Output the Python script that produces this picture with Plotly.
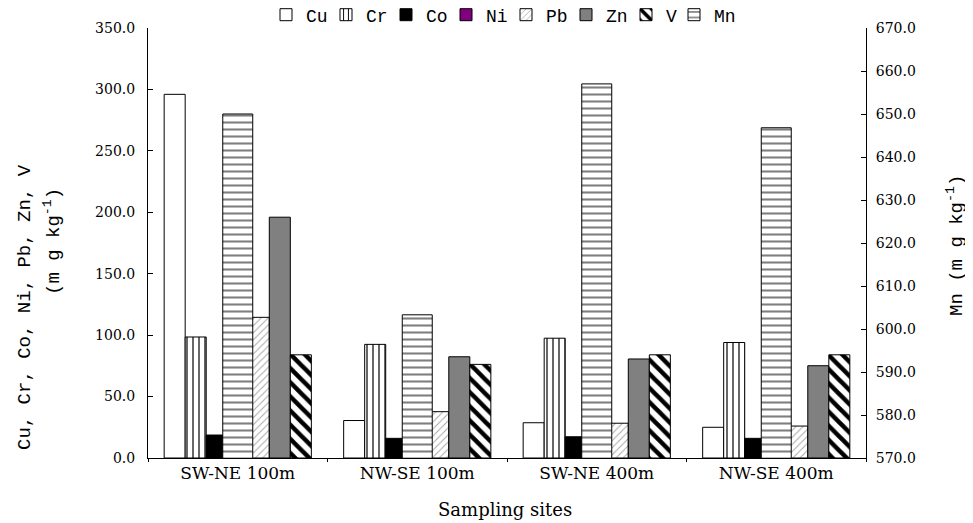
import plotly.graph_objects as go

sites = ["SW-NE 100m", "NW-SE 100m", "SW-NE 400m", "NW-SE 400m"]
cu = [296.0, 30.5, 28.7, 25.0]
cr = [98.5, 92.5, 97.5, 94.0]
co = [18.7, 16.0, 17.3, 16.0]
ni = [35.0, 32.0, 33.0, 31.0]   # hidden behind the Mn bar in the original
pb = [114.5, 37.7, 28.3, 26.0]
zn = [196.0, 82.4, 80.6, 75.1]
v = [84.0, 76.2, 84.0, 84.0]
mn = [650.0, 603.3, 657.0, 646.8]

SERIF = "DejaVu Serif"
MONO = "Liberation Mono"
OUT = dict(color="black", width=1)

fig = go.Figure()

def bar(name, vals, color="white", shape="", fg="black", size=6, sol=0.2):
    m = dict(color=color, line=OUT)
    if shape:
        m["pattern"] = dict(shape=shape, fgcolor=fg, bgcolor=color, size=size,
                            solidity=sol, fillmode="replace")
    fig.add_trace(go.Bar(name=name, x=sites, y=vals, marker=m, yaxis="y"))

bar("Cu", cu)
bar("Cr", cr, shape="|", size=6, sol=0.2)
bar("Co", co, color="black")
bar("Ni", ni, color="#800080")
bar("Pb", pb, shape="/", fg="#a8a8a8", size=5, sol=0.2)
bar("Zn", zn, color="#808080")
bar("V", v, shape="\\", size=10, sol=0.45)

fig.add_trace(go.Bar(
    name="Mn", x=sites, y=mn, yaxis="y2", width=0.167, offset=-0.0835, legend="legend2",
    marker=dict(color="white", line=OUT,
                pattern=dict(shape="-", fgcolor="black", bgcolor="white", size=7, solidity=0.3)),
))

# The page body adds an 8 px offset; work in screen pixels and convert.
OFF = 8
W, H = 973 - OFF, 523 - OFF
X0, X1, Y0, Y1 = 148, 866, 28, 458          # plot area in screen pixels
L, T = X0 - OFF, Y0 - OFF
R, B = W - (X1 - OFF), H - (Y1 - OFF)
pw, ph = X1 - X0, Y1 - Y0

def px(x):
    return (x - X0) / pw

def py(y):
    return (Y1 - y) / ph

LEG_Y = 1 - (15 - OFF) / H
leg_common = dict(orientation="h", yref="container", y=LEG_Y, yanchor="middle",
                  xanchor="left", font=dict(family=MONO, size=18), itemwidth=30,
                  traceorder="normal", bgcolor="rgba(0,0,0,0)")

fig.update_layout(
    width=W, height=H,
    margin=dict(l=L, r=R, t=T, b=B, pad=0, autoexpand=False),
    paper_bgcolor="white", plot_bgcolor="white",
    barmode="group", bargap=0.18, bargroupgap=0,
    font=dict(family=SERIF, size=14, color="black"),
    showlegend=True,
    legend=dict(x=px(266), entrywidth=15, entrywidthmode="pixels", **leg_common),
    legend2=dict(x=px(674), **leg_common),
    xaxis=dict(showline=True, linecolor="black", linewidth=1, ticks="outside",
               tickson="boundaries", ticklen=3, tickcolor="black",
               tickfont=dict(family=SERIF, size=17), showgrid=False, zeroline=False),
    yaxis=dict(range=[0, 350], dtick=50, tickformat=".1f", showline=True, linecolor="black",
               linewidth=1, ticks="inside", ticklen=5, tickcolor="black", showgrid=False,
               zeroline=False, tickfont=dict(family=SERIF, size=14), ticklabelstandoff=9),
    yaxis2=dict(range=[570, 670], dtick=10, tickformat=".1f", overlaying="y", side="right",
                showline=True, linecolor="black", linewidth=1, ticks="inside", ticklen=5,
                tickcolor="black", showgrid=False, zeroline=False,
                tickfont=dict(family=SERIF, size=14), ticklabelstandoff=6),
    annotations=[
        dict(text="Cu, Cr, Co, Ni, Pb, Zn, V", xref="paper", yref="paper", x=px(25), y=py(307),
             xanchor="center", yanchor="middle", textangle=-90, showarrow=False,
             font=dict(family=MONO, size=19)),
        dict(text="(m g kg<sup>-1</sup>)", xref="paper", yref="paper", x=px(53), y=py(242),
             xanchor="center", yanchor="middle", textangle=-90, showarrow=False,
             font=dict(family=MONO, size=19)),
        dict(text="Mn (m g kg<sup>-1</sup>)", xref="paper", yref="paper", x=px(955), y=py(245),
             xanchor="center", yanchor="middle", textangle=-90, showarrow=False,
             font=dict(family=MONO, size=19)),
        dict(text="Sampling sites", xref="paper", yref="paper", x=px(505), y=py(509),
             xanchor="center", yanchor="middle", showarrow=False,
             font=dict(family=SERIF, size=18)),
    ],
)

fig.write_html("out.html")
